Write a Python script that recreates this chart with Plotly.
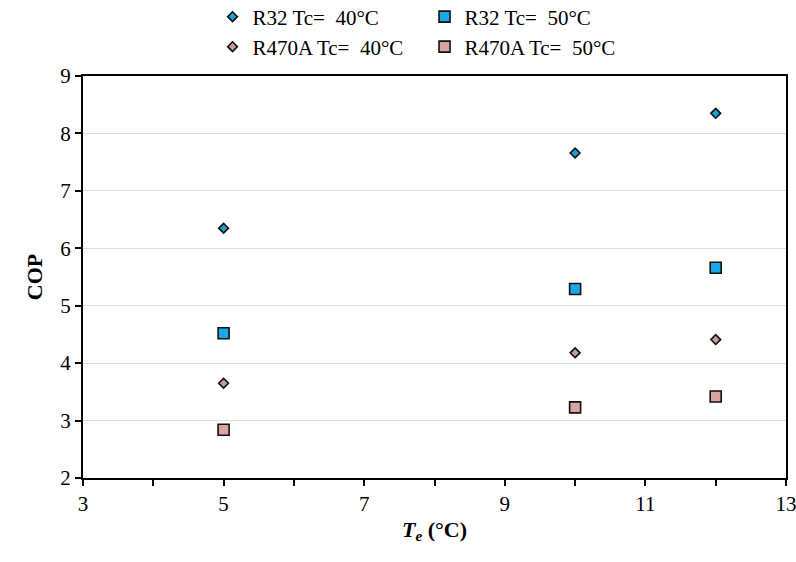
import plotly.graph_objects as go

te = [5, 10, 12]
r32_40 = [6.35, 7.66, 8.35]
r32_50 = [4.52, 5.29, 5.66]
r470_40 = [3.65, 4.18, 4.41]
r470_50 = [2.84, 3.23, 3.42]

names = ["R32 Tc=\u00a0 40°C", "R32 Tc=\u00a0 50°C", "R470A Tc=\u00a0 40°C", "R470A Tc=\u00a0 50°C"]
series = [r32_40, r32_50, r470_40, r470_50]
symbols = ["diamond", "square", "diamond", "square"]
sizes = [7.5, 11, 7.5, 11]
fills = ["#1B9FD6", "#1AA7E6", "#C99A9A", "#D9A3A3"]
legends = ["legend", "legend", "legend2", "legend2"]

FONT = "Liberation Serif, Times New Roman, serif"

fig = go.Figure()
for nm, ys, sym, sz, fc, lg in zip(names, series, symbols, sizes, fills, legends):
    fig.add_trace(go.Scatter(
        x=te, y=ys, mode="markers", name=nm, legend=lg,
        marker=dict(symbol=sym, size=sz, color=fc, line=dict(color="#111111", width=1.6)),
    ))

leg_common = dict(orientation="h", xref="container", yref="container",
                  xanchor="left", yanchor="middle",
                  entrywidth=167, entrywidthmode="pixels",
                  font=dict(family=FONT, size=21, color="black"),
                  itemwidth=30, tracegroupgap=0, bgcolor="rgba(0,0,0,0)")

fig.update_layout(
    width=796, height=562,
    margin=dict(l=83, r=10, t=76, b=84, autoexpand=False),
    paper_bgcolor="white", plot_bgcolor="white",
    font=dict(family=FONT, size=21, color="black"),
    legend=dict(leg_common, x=0.267, y=1 - 17 / 562),
    legend2=dict(leg_common, x=0.267, y=1 - 47 / 562),
    xaxis=dict(range=[3, 13], tick0=3, dtick=2, ticklabeloverflow="allow",
               ticks="outside", ticklen=6, tickwidth=2, tickcolor="black",
               minor=dict(dtick=1, tick0=3, ticks="outside", ticklen=6, tickwidth=2,
                          tickcolor="black", showgrid=False),
               showline=True, linecolor="black", linewidth=2, mirror=True,
               showgrid=False, zeroline=False,
               tickfont=dict(family=FONT, size=21),
               title=dict(text="<b><i>T</i><sub><i>e</i></sub> (°C)</b>", font=dict(family=FONT, size=22), standoff=6)),
    yaxis=dict(range=[2, 9], dtick=1,
               ticks="outside", ticklen=6, tickwidth=2, tickcolor="black",
               showline=True, linecolor="black", linewidth=2, mirror=True,
               showgrid=True, gridcolor="#DDDDDD", gridwidth=1, zeroline=False,
               tickfont=dict(family=FONT, size=21),
               title=dict(text="<b>COP</b>", font=dict(family=FONT, size=22), standoff=12)),
)

fig.write_html("out.html")
